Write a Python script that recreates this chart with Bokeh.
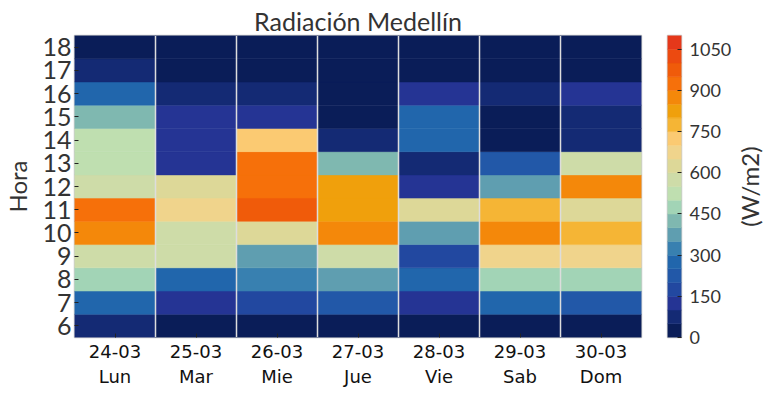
import math
from bokeh.plotting import figure
from bokeh.models import LinearColorMapper, FixedTicker, Range1d, Span, ColumnDataSource
from bokeh.core.properties import value
from bokeh.layouts import row
from bokeh.embed import file_html
from bokeh.resources import INLINE

days = ["24-03", "25-03", "26-03", "27-03", "28-03", "29-03", "30-03"]
dows = ["Lun", "Mar", "Mie", "Jue", "Vie", "Sab", "Dom"]
hours = [6, 7, 8, 9, 10, 11, 12, 13, 14, 15, 16, 17, 18]

# radiation (W/m2) per hour 6..18 for each day
lun = [70, 270, 470, 580, 870, 920, 570, 520, 530, 420, 280, 70, 15]
mar = [20, 120, 280, 575, 590, 680, 630, 140, 130, 120, 80, 20, 5]
mie = [20, 180, 330, 380, 620, 970, 930, 940, 730, 130, 70, 20, 5]
jue = [20, 230, 370, 580, 880, 830, 820, 430, 60, 40, 30, 15, 5]
vie = [20, 110, 260, 170, 360, 640, 140, 90, 290, 270, 130, 20, 5]
sab = [20, 290, 480, 670, 890, 780, 390, 220, 40, 35, 60, 15, 5]
dom = [20, 240, 460, 690, 760, 610, 860, 560, 80, 90, 110, 20, 5]
series = [lun, mar, mie, jue, vie, sab, dom]

levels = [0, 50, 100, 150, 200, 250, 300, 350, 400, 450, 500, 550,
          600, 650, 700, 750, 800, 850, 900, 950, 1000, 1050, 1100]
palette = ["#0a1d58", "#142a74", "#253494", "#2248a0", "#2258a8", "#2166ac",
           "#3880b0", "#5f9eb0", "#7fb8b0", "#a2d4b6", "#bfdfb0", "#cedca8",
           "#ddd898", "#f0d48c", "#fbca72", "#f5b535", "#f0a00c", "#f4880a",
           "#f6700a", "#f05b0a", "#ec4a10", "#e5381a"]
cbar_ticks = [0, 150, 300, 450, 600, 750, 900, 1050]
cbar_title = "(W/m2)"

xs, ys, vs = [], [], []
for i, s in enumerate(series):
    for h, v in zip(hours, s):
        xs.append(i)
        ys.append(h)
        vs.append(v)
src = ColumnDataSource(dict(x=xs, y=ys, v=vs))
mapper = LinearColorMapper(palette=palette, low=levels[0], high=levels[-1])

FONT = "Lato"
TXT = "#333333"
TOP = 35

p = figure(frame_width=567, frame_height=302,
           x_range=Range1d(-0.5, len(days) - 0.5),
           y_range=Range1d(hours[0] - 0.5, hours[-1] + 0.5),
           output_backend="svg", toolbar_location=None,
           title="Radiación Medellín",
           min_border_left=65, min_border_right=10, min_border_top=TOP, min_border_bottom=10)
p.rect(x="x", y="y", width=1, height=1, source=src,
       fill_color={"field": "v", "transform": mapper},
       line_color={"field": "v", "transform": mapper}, line_width=0.5)
for i in range(len(days) - 1):
    p.add_layout(Span(location=i + 0.5, dimension="height",
                      line_color="#dddddd", line_width=1.5))

p.title.align = "center"
p.title.text_font = FONT
p.title.text_font_size = "25px"
p.title.text_font_style = "normal"
p.title.text_color = TXT
p.title.standoff = 0

p.grid.visible = False
p.outline_line_color = "#cccccc"
p.outline_line_width = 1.5
p.axis.axis_line_color = None
p.axis.major_tick_in = 4
p.axis.major_tick_out = 0
p.axis.minor_tick_line_color = None
p.axis.major_tick_line_color = "#222222"

p.xaxis.ticker = FixedTicker(ticks=list(range(len(days))))
p.xaxis.major_label_overrides = {i: f"{d}\n{w}" for i, (d, w) in enumerate(zip(days, dows))}
p.xaxis.major_label_text_font = "DejaVu Sans"
p.xaxis.major_label_text_font_size = "18px"
p.xaxis.major_label_text_color = "#111111"
p.xaxis.major_label_standoff = 3

p.yaxis.ticker = FixedTicker(ticks=hours)
p.yaxis.major_label_text_font = FONT
p.yaxis.major_label_text_font_size = "25px"
p.yaxis.major_label_text_color = TXT
p.yaxis.major_label_standoff = 3
p.yaxis.axis_label = "Hora"
p.yaxis.axis_label_text_font = FONT
p.yaxis.axis_label_text_font_size = "24px"
p.yaxis.axis_label_text_font_style = "normal"
p.yaxis.axis_label_text_color = TXT
p.yaxis.axis_label_standoff = 7

# colour bar
c = figure(frame_width=14, frame_height=302,
           x_range=Range1d(0, 1), y_range=Range1d(levels[0], levels[-1]),
           output_backend="svg", toolbar_location=None,
           y_axis_location="right",
           min_border_left=16, min_border_right=48, min_border_top=TOP, min_border_bottom=10)
c.quad(left=0, right=1, bottom=levels[:-1], top=levels[1:],
       fill_color=palette, line_color=palette, line_width=0.5)
c.xaxis.visible = False
c.grid.visible = False
c.outline_line_color = "#cccccc"
c.outline_line_width = 1.5
c.yaxis.ticker = FixedTicker(ticks=cbar_ticks)
c.yaxis.axis_line_color = None
c.yaxis.major_tick_in = 4
c.yaxis.major_tick_out = 0
c.yaxis.minor_tick_line_color = None
c.yaxis.major_tick_line_color = "#222222"
c.yaxis.major_label_text_font = FONT
c.yaxis.major_label_text_font_size = "18px"
c.yaxis.major_label_text_color = TXT
c.yaxis.major_label_standoff = 8

# colour bar title (rotated, reading bottom to top)
t = figure(frame_width=30, frame_height=302,
           x_range=Range1d(0, 1), y_range=Range1d(levels[0], levels[-1]),
           output_backend="svg", toolbar_location=None,
           min_border_left=0, min_border_right=0, min_border_top=TOP, min_border_bottom=10)
t.text(x=[0.5], y=[(levels[0] + levels[-1]) / 2], text=[cbar_title], angle=math.pi / 2,
       text_align="center", text_baseline="middle",
       text_font=value(FONT), text_font_size="24px", text_color=TXT)
t.axis.visible = False
t.grid.visible = False
t.outline_line_color = None

layout = row(p, c, t)
open("out.html", "w").write(file_html(layout, INLINE))
